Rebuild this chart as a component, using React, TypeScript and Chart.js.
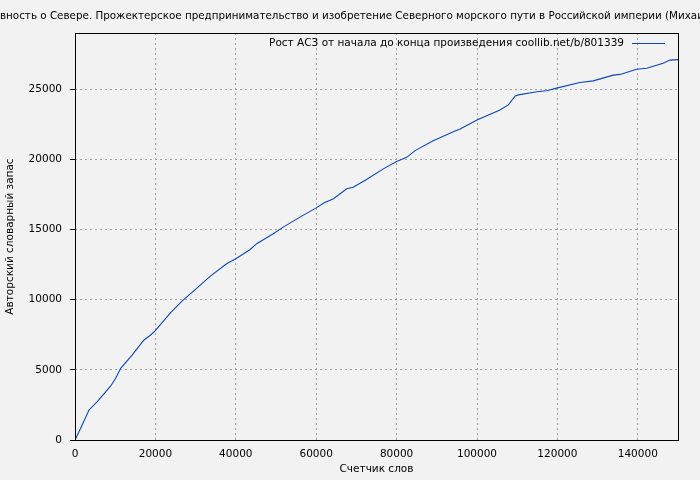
import React, { useEffect, useRef } from "react";
import { Chart, registerables } from "chart.js";

Chart.register(...registerables);

const titleText =
  "вность о Севере. Прожектерское предпринимательство и изобретение Северного морского пути в Российской империи (Михаил Агапов)";
const legendText = "Рост АСЗ от начала до конца произведения coollib.net/b/801339";
const xAxisTitle = "Счетчик слов";
const yAxisTitle = "Авторский словарный запас";

const wordCount = [
  0, 1410, 3480, 5550, 8880, 10120, 11360, 14250, 17160, 18820, 19970, 23790, 26680,
  31100, 33600, 37700, 40000, 43500, 45200, 49300, 51800, 55970, 60000, 62000, 64300, 67600, 69200,
  72500, 76700, 80000, 82500, 84600, 89100, 94100, 95800, 100000, 105700, 107800, 109500, 110300,
  114900, 117300, 119800, 125600, 128900, 133900, 135600, 139700, 142200, 146300, 148000, 150000,
];
const vocabulary = [
  0, 830, 2140, 2730, 3850, 4400, 5110, 6060, 7130, 7480, 7790, 9070, 9910,
  11020, 11660, 12560, 12920, 13560, 13990, 14700, 15170, 15880, 16540, 16900, 17190, 17900, 18010,
  18560, 19320, 19840, 20140, 20620, 21330, 21970, 22160, 22800, 23510, 23880, 24520, 24590,
  24810, 24880, 25070, 25470, 25590, 26000, 26050, 26420, 26490, 26850, 27070, 27100,
];

const xTicks = [0, 20000, 40000, 60000, 80000, 100000, 120000, 140000];
const yTicks = [0, 5000, 10000, 15000, 20000, 25000];
const X_MIN = 0;
const X_MAX = 150000;
const Y_MIN = 0;
const Y_MAX = 29000;

const FONT = '"DejaVu Sans", Verdana, sans-serif';
const LINE_COLOR = "#0b48b3";
const GRID_COLOR = "#a0a0a0";

export default function App() {
  const ref = useRef<HTMLCanvasElement | null>(null);

  useEffect(() => {
    const canvas = ref.current;
    if (!canvas) return;

    const decor = {
      id: "decor",
      beforeDraw(chart: any) {
        const ctx = chart.ctx;
        ctx.save();
        ctx.fillStyle = "#f2f2f2";
        ctx.fillRect(0, 0, chart.width, chart.height);
        ctx.restore();
      },
      afterDraw(chart: any) {
        const ctx = chart.ctx;
        const a = chart.chartArea;
        ctx.save();
        ctx.strokeStyle = "#000";
        ctx.lineWidth = 1;
        ctx.setLineDash([]);
        ctx.strokeRect(
          Math.round(a.left) + 0.5,
          Math.round(a.top) + 0.5,
          Math.round(a.right - a.left),
          Math.round(a.bottom - a.top)
        );

        // title
        ctx.fillStyle = "#000";
        ctx.font = "10.35px " + FONT;
        ctx.textAlign = "left";
        ctx.textBaseline = "middle";
        ctx.fillText(titleText, 0, 16);

        // legend
        ctx.font = "10.5px " + FONT;
        ctx.textAlign = "right";
        ctx.fillText(legendText, a.right - 54, a.top + 10);
        ctx.strokeStyle = LINE_COLOR;
        ctx.beginPath();
        ctx.moveTo(a.right - 46, a.top + 10.5);
        ctx.lineTo(a.right - 13, a.top + 10.5);
        ctx.stroke();
        ctx.restore();
      },
    };

    const chart = new Chart(canvas, {
      type: "line",
      data: {
        datasets: [
          {
            data: wordCount.map((x, i) => ({ x, y: vocabulary[i] })),
            borderColor: LINE_COLOR,
            borderWidth: 1.1,
            pointRadius: 0,
            tension: 0,
            fill: false,
          },
        ],
      },
      options: {
        responsive: false,
        animation: false,
        devicePixelRatio: 1,
        layout: { padding: { left: 0, right: 22, top: 33, bottom: 0 } },
        plugins: {
          legend: { display: false },
          title: { display: false },
          tooltip: { enabled: false },
        },
        scales: {
          x: {
            type: "linear",
            min: X_MIN,
            max: X_MAX,
            afterFit: (s: any) => {
              s.height = 40;
            },
            afterBuildTicks: (s: any) => {
              s.ticks = xTicks.map((v) => ({ value: v }));
            },
            ticks: {
              maxRotation: 0,
              autoSkip: false,
              padding: 8,
              color: "#000",
              font: { family: FONT, size: 10.5 },
              callback: (v: any) => String(v),
            },
            grid: { color: GRID_COLOR, drawTicks: false, lineWidth: 1 },
            border: { display: false, dash: [2, 3] },
            title: {
              display: true,
              text: xAxisTitle,
              color: "#000",
              font: { family: FONT, size: 10.5 },
              padding: { top: 0, bottom: 4 },
            },
          },
          y: {
            type: "linear",
            min: Y_MIN,
            max: Y_MAX,
            afterFit: (s: any) => {
              s.width = 75;
            },
            afterBuildTicks: (s: any) => {
              s.ticks = yTicks.map((v) => ({ value: v }));
            },
            ticks: {
              autoSkip: false,
              padding: 8,
              color: "#000",
              font: { family: FONT, size: 10.5 },
              callback: (v: any) => String(v),
            },
            grid: {
              color: GRID_COLOR,
              drawTicks: true,
              tickLength: 5,
              tickColor: "#000",
              tickBorderDash: [1, 0],
              lineWidth: 1,
            },
            border: { display: false, dash: [2, 3] },
            title: {
              display: true,
              text: yAxisTitle,
              color: "#000",
              font: { family: FONT, size: 10.5 },
              padding: { top: 4, bottom: 0 },
            },
          },
        },
      },
      plugins: [decor],
    });

    return () => chart.destroy();
  }, []);

  return (
    <div style={{ position: "absolute", left: 0, top: 0, width: 700, height: 480 }}>
      <canvas ref={ref} width={700} height={480} style={{ display: "block" }} />
    </div>
  );
}
